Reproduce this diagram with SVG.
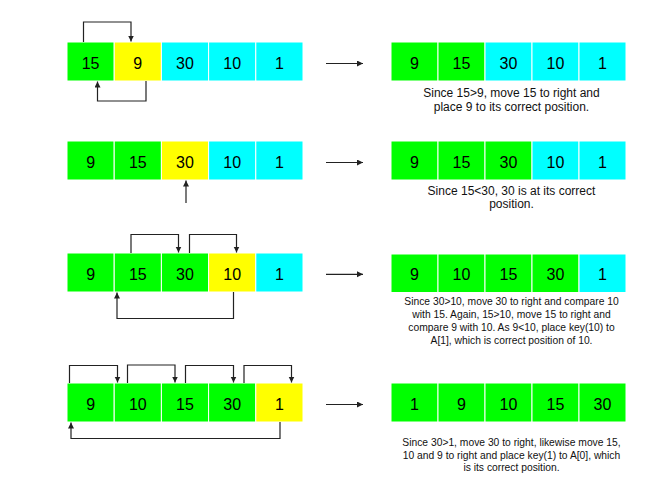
<svg xmlns="http://www.w3.org/2000/svg" width="648" height="486" viewBox="0 0 648 486">
<style>
.g{fill:#00ff00;stroke:#ffffff;stroke-width:1}
.y{fill:#ffff00;stroke:#ffffff;stroke-width:1}
.c{fill:#00ffff;stroke:#ffffff;stroke-width:1}
.v{font-family:"Liberation Sans",Arial,sans-serif;font-size:16px;fill:#000;text-anchor:middle}
.d{font-family:"Liberation Sans",Arial,sans-serif;font-size:12px;fill:#111;text-anchor:middle}
.s{font-size:10.3px}
.ln{fill:none;stroke:#222;stroke-width:1.2}
</style>
<defs>
<marker id="ah" markerUnits="userSpaceOnUse" markerWidth="8" markerHeight="8" refX="6" refY="3" orient="auto">
<path d="M0,0 L6,3 L0,6 Z" fill="#222"/>
</marker>
</defs>
<rect width="648" height="486" fill="#ffffff"/>

<!-- Row 1 -->
<g id="row1-left">
<rect class="g" x="67" y="42" width="47.2" height="39"/><text class="v" x="90.6" y="68.5">15</text>
<rect class="y" x="114.2" y="42" width="47.2" height="39"/><text class="v" x="137.8" y="68.5">9</text>
<rect class="c" x="161.4" y="42" width="47.2" height="39"/><text class="v" x="185" y="68.5">30</text>
<rect class="c" x="208.6" y="42" width="47.2" height="39"/><text class="v" x="232.2" y="68.5">10</text>
<rect class="c" x="255.8" y="42" width="47.2" height="39"/><text class="v" x="279.4" y="68.5">1</text>
</g>
<g id="row1-right">
<rect class="g" x="391" y="42" width="47" height="39"/><text class="v" x="414.5" y="68.5">9</text>
<rect class="g" x="438" y="42" width="47" height="39"/><text class="v" x="461.5" y="68.5">15</text>
<rect class="c" x="485" y="42" width="47" height="39"/><text class="v" x="508.5" y="68.5">30</text>
<rect class="c" x="532" y="42" width="47" height="39"/><text class="v" x="555.5" y="68.5">10</text>
<rect class="c" x="579" y="42" width="47" height="39"/><text class="v" x="602.5" y="68.5">1</text>
</g>
<g id="row1-note">
<text class="d" x="511.5" y="97">Since 15&gt;9, move 15 to right and</text>
<text class="d" x="511.5" y="111">place 9 to its correct position.</text>
</g>

<!-- Row 2 -->
<g id="row2-left">
<rect class="g" x="67" y="141" width="47.2" height="39"/><text class="v" x="90.6" y="167.5">9</text>
<rect class="g" x="114.2" y="141" width="47.2" height="39"/><text class="v" x="137.8" y="167.5">15</text>
<rect class="y" x="161.4" y="141" width="47.2" height="39"/><text class="v" x="185" y="167.5">30</text>
<rect class="c" x="208.6" y="141" width="47.2" height="39"/><text class="v" x="232.2" y="167.5">10</text>
<rect class="c" x="255.8" y="141" width="47.2" height="39"/><text class="v" x="279.4" y="167.5">1</text>
</g>
<g id="row2-right">
<rect class="g" x="391" y="141" width="47" height="39"/><text class="v" x="414.5" y="167.5">9</text>
<rect class="g" x="438" y="141" width="47" height="39"/><text class="v" x="461.5" y="167.5">15</text>
<rect class="g" x="485" y="141" width="47" height="39"/><text class="v" x="508.5" y="167.5">30</text>
<rect class="c" x="532" y="141" width="47" height="39"/><text class="v" x="555.5" y="167.5">10</text>
<rect class="c" x="579" y="141" width="47" height="39"/><text class="v" x="602.5" y="167.5">1</text>
</g>
<g id="row2-note">
<text class="d" x="511.5" y="194.5">Since 15&lt;30, 30 is at its correct</text>
<text class="d" x="511.5" y="207.5">position.</text>
</g>

<!-- Row 3 -->
<g id="row3-left">
<rect class="g" x="67" y="253" width="47.2" height="39"/><text class="v" x="90.6" y="279.5">9</text>
<rect class="g" x="114.2" y="253" width="47.2" height="39"/><text class="v" x="137.8" y="279.5">15</text>
<rect class="g" x="161.4" y="253" width="47.2" height="39"/><text class="v" x="185" y="279.5">30</text>
<rect class="y" x="208.6" y="253" width="47.2" height="39"/><text class="v" x="232.2" y="279.5">10</text>
<rect class="c" x="255.8" y="253" width="47.2" height="39"/><text class="v" x="279.4" y="279.5">1</text>
</g>
<g id="row3-right">
<rect class="g" x="391" y="254" width="47" height="38.5"/><text class="v" x="414.5" y="280">9</text>
<rect class="g" x="438" y="254" width="47" height="38.5"/><text class="v" x="461.5" y="280">10</text>
<rect class="g" x="485" y="254" width="47" height="38.5"/><text class="v" x="508.5" y="280">15</text>
<rect class="g" x="532" y="254" width="47" height="38.5"/><text class="v" x="555.5" y="280">30</text>
<rect class="c" x="579" y="254" width="47" height="38.5"/><text class="v" x="602.5" y="280">1</text>
</g>
<g id="row3-note">
<text class="d s" x="511.5" y="305">Since 30&gt;10, move 30 to right and compare 10</text>
<text class="d s" x="511.5" y="318">with 15. Again, 15&gt;10, move 15 to right and</text>
<text class="d s" x="511.5" y="331">compare 9 with 10. As 9&lt;10, place key(10) to</text>
<text class="d s" x="511.5" y="344">A[1], which is correct position of 10.</text>
</g>

<!-- Row 4 -->
<g id="row4-left">
<rect class="g" x="67" y="383" width="47.2" height="39"/><text class="v" x="90.6" y="409.5">9</text>
<rect class="g" x="114.2" y="383" width="47.2" height="39"/><text class="v" x="137.8" y="409.5">10</text>
<rect class="g" x="161.4" y="383" width="47.2" height="39"/><text class="v" x="185" y="409.5">15</text>
<rect class="g" x="208.6" y="383" width="47.2" height="39"/><text class="v" x="232.2" y="409.5">30</text>
<rect class="y" x="255.8" y="383" width="47.2" height="39"/><text class="v" x="279.4" y="409.5">1</text>
</g>
<g id="row4-right">
<rect class="g" x="391" y="383" width="47" height="39"/><text class="v" x="414.5" y="409.5">1</text>
<rect class="g" x="438" y="383" width="47" height="39"/><text class="v" x="461.5" y="409.5">9</text>
<rect class="g" x="485" y="383" width="47" height="39"/><text class="v" x="508.5" y="409.5">10</text>
<rect class="g" x="532" y="383" width="47" height="39"/><text class="v" x="555.5" y="409.5">15</text>
<rect class="g" x="579" y="383" width="47" height="39"/><text class="v" x="602.5" y="409.5">30</text>
</g>
<g id="row4-note">
<text class="d s" x="511.5" y="446">Since 30&gt;1, move 30 to right, likewise move 15,</text>
<text class="d s" x="511.5" y="458.5">10 and 9 to right and place key(1) to A[0], which</text>
<text class="d s" x="511.5" y="471">is its correct position.</text>
</g>

<g id="connectors">
<path class="ln" marker-end="url(#ah)" d="M83.5 42 V22 H131 V41.5"/>
<path class="ln" marker-end="url(#ah)" d="M146 81 V101 H97.5 V81.5"/>
<path class="ln" marker-end="url(#ah)" d="M186 203 V180.5"/>
<path class="ln" marker-end="url(#ah)" d="M131 253 V234.5 H178.5 V252.5"/>
<path class="ln" marker-end="url(#ah)" d="M189.5 253 V234.5 H236.5 V252.5"/>
<path class="ln" marker-end="url(#ah)" d="M233.5 292 V318.5 H117 V292.5"/>
<path class="ln" marker-end="url(#ah)" d="M69.5 383 V365.5 H117.5 V382.5"/>
<path class="ln" marker-end="url(#ah)" d="M127.5 383 V365 H175 V382.5"/>
<path class="ln" marker-end="url(#ah)" d="M185.5 383 V365.5 H233.5 V382.5"/>
<path class="ln" marker-end="url(#ah)" d="M244 383 V365.5 H291.5 V382.5"/>
<path class="ln" marker-end="url(#ah)" d="M280 422 V438.5 H71 V422.5"/>
<path class="ln" marker-end="url(#ah)" d="M326 63.5 H363"/>
<path class="ln" marker-end="url(#ah)" d="M326 162.5 H363"/>
<path class="ln" marker-end="url(#ah)" d="M326 274.3 H363"/>
<path class="ln" marker-end="url(#ah)" d="M326 404.5 H363"/>
</g>
</svg>
